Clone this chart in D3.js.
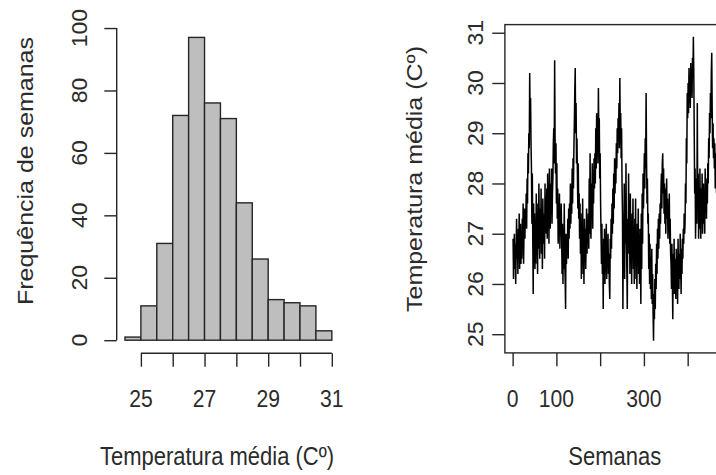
<!DOCTYPE html>
<html>
<head>
<meta charset="utf-8">
<script src="https://cdn.jsdelivr.net/npm/d3@7"></script>
<style>
  body { margin: 0; background: #fff; }
  text { font-family: "Liberation Sans", Arial, sans-serif; fill: #2b2b2b; }
</style>
</head>
<body>
<div class="div_d3"></div>
<script>
// histograma: limites das classes e contagens
const binEdges = [24.5, 25, 25.5, 26, 26.5, 27, 27.5, 28, 28.5, 29, 29.5, 30, 30.5, 31]
const binCounts = [1, 11, 31, 72, 97, 76, 71, 44, 26, 13, 12, 11, 3]

const histXTicks = [25, 26, 27, 28, 29, 30, 31]
const histXLabels = ["25", "", "27", "", "29", "", "31"]
const histYTicks = [0, 20, 40, 60, 80, 100]

// serie semanal de temperatura media
const tempSemanal = [
  26.9, 26.1, 26.7, 27.0, 26.3, 26.8, 26.0, 26.6, 27.3, 26.5, 26.9, 26.2, 27.1, 26.6, 27.4, 26.3, 26.8, 27.2, 26.4, 26.9,
  26.5, 27.3, 26.8, 27.6, 26.4, 27.0, 27.5, 26.9, 27.4, 27.2,
  27.8, 27.1, 28.1, 27.6, 28.6, 28.2, 29.0, 28.7,
  30.2, 29.3, 29.7, 28.8,
  28.3, 27.2, 28.2, 26.9, 25.8, 27.6, 26.5, 27.4, 26.3,
  27.0, 26.4, 27.8, 26.8, 27.3, 26.2, 27.6, 26.7, 28.0, 27.1, 26.5, 27.5, 26.9, 27.9, 26.6, 27.2, 26.3, 27.7, 27.0, 26.8, 27.4, 26.5, 28.0, 27.1, 27.5,
  27.0, 27.9, 26.9, 28.2, 27.3, 27.8, 26.8, 28.3, 27.5, 27.1, 28.0, 27.4, 28.3, 27.2, 27.8, 28.1, 28.8,
  29.1, 28.4, 30.45, 28.9, 28.2, 28.8, 27.6, 28.4,
  27.3, 27.9, 26.8, 27.6, 27.1, 27.8, 26.7, 27.4, 27.0, 27.6, 26.9,
  26.2, 27.2, 26.0, 26.9, 26.3, 27.6, 26.5, 26.1, 25.5, 27.0, 26.4, 26.8, 26.6,
  27.3, 26.5, 27.5, 26.9, 27.6, 27.1, 28.0, 27.2, 27.8, 27.4, 28.3, 27.6, 28.5, 27.9, 28.7, 29.2,
  29.8, 30.3, 29.0, 29.6, 28.4, 28.9,
  28.2, 27.5, 28.4, 27.3, 27.8, 26.9, 27.6,
  26.6, 27.4, 26.1, 27.0, 26.4, 27.7, 26.2, 26.9, 26.0, 27.3, 26.5, 27.1, 26.3, 26.8, 27.5, 26.6, 27.2, 26.9,
  27.4, 26.7, 28.1, 27.0, 28.6, 27.3, 26.9, 28.0, 27.5, 28.4, 27.1, 28.2, 27.6, 28.5, 27.9,
  28.6, 28.0, 29.1, 28.3, 29.4, 28.7, 29.0, 28.4, 29.9, 28.8, 29.3, 28.1, 28.6, 27.6,
  27.0, 26.4, 27.2, 26.2, 26.8, 25.5, 26.9, 26.3, 27.1, 26.0, 26.7, 26.4, 27.2, 26.1, 26.8, 26.5, 27.0, 26.2, 26.6, 26.0, 25.7, 26.9,
  26.5, 27.3, 26.7, 27.6, 27.0, 27.9, 27.2, 28.2, 27.5, 28.5, 27.8, 28.4, 28.0, 28.8, 28.3, 29.1, 28.6, 29.3,
  28.9, 29.6, 28.7, 30.1, 29.0, 29.4, 28.5, 29.1, 28.0, 27.4,
  25.5, 27.2, 26.4, 28.0, 26.1, 27.6, 26.8, 28.4, 27.0, 26.3, 25.5, 27.3, 26.6, 28.2, 26.9, 27.5, 26.2, 27.8, 26.5, 27.1, 26.0, 27.4, 26.7, 27.7, 26.3,
  26.9, 26.0, 27.3, 26.4, 27.7, 26.1, 26.8, 25.9, 27.2, 26.5, 27.5, 26.2, 26.9, 26.0, 27.1, 26.6, 25.6, 27.4, 26.3, 27.8, 26.8, 28.2, 27.5,
  28.0, 28.6, 27.9, 28.9, 28.3, 29.8, 28.5, 27.6, 28.1, 27.2,
  27.4, 26.3, 27.0, 26.0, 26.8, 25.9, 26.5, 25.7, 26.7, 25.6, 26.2, 25.4, 24.87, 25.8, 25.3, 26.1, 25.5, 26.4, 25.9, 26.8, 26.2, 27.1, 26.5, 27.3, 26.7, 27.4, 26.9, 27.6, 27.2,
  27.9, 28.2, 27.5, 28.4, 28.6, 27.8, 28.3, 27.4, 28.0, 27.2, 27.9, 27.0, 27.6, 28.1, 27.3, 27.7, 26.9, 27.5, 27.1, 27.8, 26.8, 27.3, 26.6,
  26.4, 25.9, 26.8, 26.1, 25.3, 26.6, 26.0, 26.9, 25.8, 26.5, 26.2, 25.7, 26.7, 26.0, 26.4, 25.6, 26.9, 26.3, 25.9, 26.6, 26.1, 27.0, 26.4, 25.8, 26.7, 26.2, 26.9, 26.5, 27.1, 26.8, 27.4, 27.0,
  27.2, 28.0, 27.6, 28.9, 28.4, 29.8, 29.3, 30.0, 29.4, 30.3, 29.6, 30.1, 29.5, 30.4, 29.8, 30.2, 29.7, 30.5, 30.1, 30.92,
  30.2, 29.0, 27.8, 28.3, 26.9, 27.6, 28.1, 27.2, 29.6, 27.5, 28.2, 26.9,
  27.8, 27.1, 28.3, 27.4, 26.9, 27.9, 27.3, 28.2, 27.0, 27.6, 28.0, 27.2, 27.7, 27.0, 28.3, 27.5, 27.9, 27.3, 28.1, 27.6, 28.4,
  28.0, 28.9, 28.5, 29.4, 29.0, 29.8, 29.3, 30.2, 30.6, 29.5,
  28.7, 29.2, 28.5, 28.9, 28.3, 28.8, 27.9, 28.6, 28.2, 27.8, 28.4, 27.6
]

const serieXTicks = [0, 100, 200, 300, 400]
const serieXLabels = ["0", "100", "", "300", ""]
const serieYTicks = [25, 26, 27, 28, 29, 30, 31]

// o png original esta um pouco achatado na horizontal
const tickFont = {size: 23, squeeze: 0.92}
const titleFont = {size: 25, squeeze: 0.88}

const svg = d3.select(".div_d3")
  .append("svg")
    .attr("width", 716)
    .attr("height", 475)

// R pads the data range by 4% on each side
function pad(ext){
  let d = (ext[1] - ext[0]) * 0.04
  return [ext[0] - d, ext[1] + d]
}

function addText(g, x, y, txt, rotate, f){
  g.append("text")
    .attr("transform", `translate(${x},${y}) scale(${f.squeeze},1)` + (rotate ? " rotate(-90)" : ""))
    .attr("text-anchor", "middle")
    .style("font-size", f.size + "px")
    .text(txt)
}

//////////
// HISTOGRAMA //
//////////
const hist = {left: 116.7, right: 340.1, top: 25.3, bottom: 352.3}

const xh = d3.scaleLinear()
  .domain(pad([binEdges[0], binEdges[binEdges.length - 1]]))
  .range([hist.left, hist.right])

const yh = d3.scaleLinear()
  .domain(pad([0, d3.max(binCounts)]))
  .range([hist.bottom, hist.top])

const gh = svg.append("g")

gh.selectAll("rect.bar")
  .data(binCounts)
  .join("rect")
    .attr("class", "bar")
    .attr("x", (d, i) => xh(binEdges[i]))
    .attr("y", d => yh(d))
    .attr("width", (d, i) => xh(binEdges[i + 1]) - xh(binEdges[i]))
    .attr("height", d => yh(0) - yh(d))
    .style("fill", "#bebebe")
    .style("stroke", "#262626")
    .style("stroke-width", 1.4)

// eixo x
const axH = svg.append("g")
  .attr("transform", `translate(0,${hist.bottom + 1})`)
  .call(d3.axisBottom(xh).tickValues(histXTicks).tickSize(13.4).tickFormat(""))
axH.select(".domain").attr("d", `M${xh(histXTicks[0])},0H${xh(histXTicks[histXTicks.length - 1])}`)

histXTicks.forEach((t, i) => {
  if (histXLabels[i]) addText(svg, xh(t), 406.5, histXLabels[i], false, tickFont)
})

// eixo y
const ayH = svg.append("g")
  .attr("transform", `translate(${hist.left},0)`)
  .call(d3.axisLeft(yh).tickValues(histYTicks).tickSize(12.4).tickFormat(""))
ayH.select(".domain").attr("d", `M0,${yh(0)}V${yh(100)}`)

histYTicks.forEach(t => addText(svg, 87, yh(t), String(t), true, tickFont))

addText(svg, 217, 465, "Temperatura média (Cº)", false, titleFont)
addText(svg, 32.7, 171, "Frequência de semanas", true, titleFont)

//////////
// SERIE //
//////////
const serie = {left: 504.9, right: 725.6, top: 24.6, bottom: 352.9}

const xs = d3.scaleLinear()
  .domain(pad([1, tempSemanal.length]))
  .range([serie.left, serie.right])

const ys = d3.scaleLinear()
  .domain(pad(d3.extent(tempSemanal)))
  .range([serie.bottom, serie.top])

svg.append("path")
  .datum(tempSemanal)
  .attr("d", d3.line().x((d, i) => xs(i + 1)).y(d => ys(d)))
  .style("fill", "none")
  .style("stroke", "#000")
  .style("stroke-width", 1.5)

svg.append("rect")
  .attr("x", serie.left)
  .attr("y", serie.top)
  .attr("width", serie.right - serie.left)
  .attr("height", serie.bottom - serie.top)
  .style("fill", "none")
  .style("stroke", "#262626")
  .style("stroke-width", 1.4)

const axS = svg.append("g")
  .attr("transform", `translate(0,${serie.bottom})`)
  .call(d3.axisBottom(xs).tickValues(serieXTicks).tickSize(13.4).tickFormat(""))
axS.select(".domain").remove()

serieXTicks.forEach((t, i) => {
  if (serieXLabels[i]) addText(svg, xs(t), 406.5, serieXLabels[i], false, tickFont)
})

const ayS = svg.append("g")
  .attr("transform", `translate(${serie.left},0)`)
  .call(d3.axisLeft(ys).tickValues(serieYTicks).tickSize(12.6).tickFormat(""))
ayS.select(".domain").remove()

serieYTicks.forEach(t => addText(svg, 483, ys(t), String(t), true, tickFont))

addText(svg, 614.8, 465, "Semanas", false, titleFont)
addText(svg, 421.7, 179, "Temperatura média (Cº)", true, titleFont)

svg.selectAll(".tick line").style("stroke", "#262626").style("stroke-width", 1.4)
svg.selectAll(".domain").style("stroke", "#262626").style("stroke-width", 1.4)
</script>
</body>
</html>
